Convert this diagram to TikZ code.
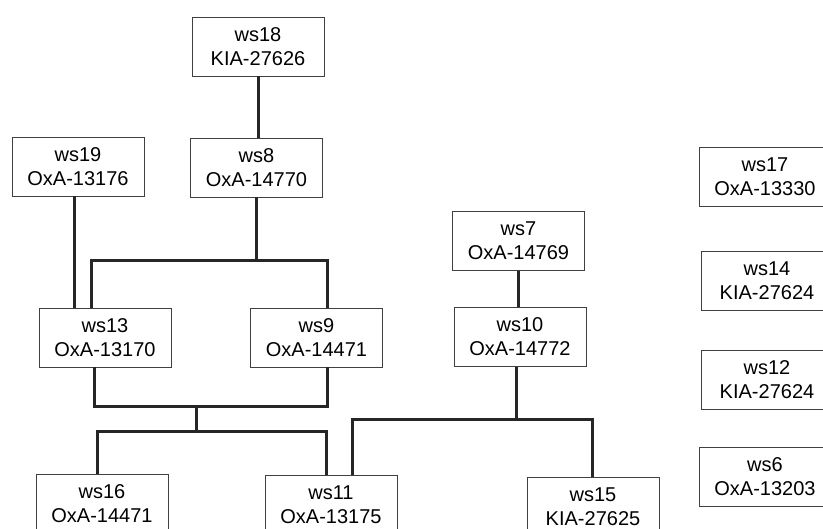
\documentclass[tikz,border=0pt]{standalone}
\usepackage{fontspec}
\setmainfont{Liberation Sans}
\usepackage{tikz}

\begin{document}
\begin{tikzpicture}[x=1pt,y=-1pt,
  sample/.style={draw=black!75,line width=0.9pt,fill=white,minimum width=132pt,minimum height=59pt,
    inner sep=0pt,align=center,font=\fontsize{20}{24}\selectfont},
  link/.style={line width=3pt,black!85}]
\useasboundingbox (0,0) rectangle (823,529);
% samples
\node[sample] (ws18) at (258,46.5) {ws18\\KIA-27626};
\node[sample] (ws19) at (78,166.5) {ws19\\OxA-13176};
\node[sample] (ws8) at (256.5,167.5) {ws8\\OxA-14770};
\node[sample] (ws7) at (518.5,241) {ws7\\OxA-14769};
\node[sample] (ws13) at (105,337.5) {ws13\\OxA-13170};
\node[sample] (ws9) at (316.5,337.5) {ws9\\OxA-14471};
\node[sample] (ws10) at (520,337) {ws10\\OxA-14772};
\node[sample] (ws16) at (102,503.5) {ws16\\OxA-14471};
\node[sample] (ws11) at (331,504.5) {ws11\\OxA-13175};
\node[sample] (ws15) at (593,506.5) {ws15\\KIA-27625};
% unlinked samples
\node[sample] (ws17) at (765,176.5) {ws17\\OxA-13330};
\node[sample] (ws14) at (767,280.5) {ws14\\KIA-27624};
\node[sample] (ws12) at (767,379.5) {ws12\\KIA-27624};
\node[sample] (ws6) at (765,476.5) {ws6\\OxA-13203};
% bends
\coordinate (a1) at (91,261);
\coordinate (a2) at (327,261);
\coordinate (c19) at (74,261);
\coordinate (b1) at (94,407);
\coordinate (b2) at (327,407);
\coordinate (b3) at (196,407);
\coordinate (d1) at (97,432);
\coordinate (d2) at (326,432);
\coordinate (e1) at (352,420);
\coordinate (e2) at (592,420);
\coordinate (e3) at (516,420);
% links
\draw[link] (ws18.south) -- (ws18.south |- ws8.north);
\draw[link] (ws8.south) -- (ws8.south |- a1);
\draw[link] (ws13.north -| a1) |- (a2) -- (ws9.north -| a2);
\draw[link] (ws19.south -| c19) -- (ws13.north -| c19);
\draw[link] (ws13.south -| b1) |- (b2) -- (ws9.south -| b2);
\draw[link] (b3) -- (b3 |- d1);
\draw[link] (ws16.north -| d1) |- (d2) -- (ws11.north -| d2);
\draw[link] (ws7.south) -- (ws7.south |- ws10.north);
\draw[link] (ws10.south -| e3) -- (e3);
\draw[link] (ws11.north -| e1) |- (e2) -- (ws15.north -| e2);
\end{tikzpicture}
\end{document}
